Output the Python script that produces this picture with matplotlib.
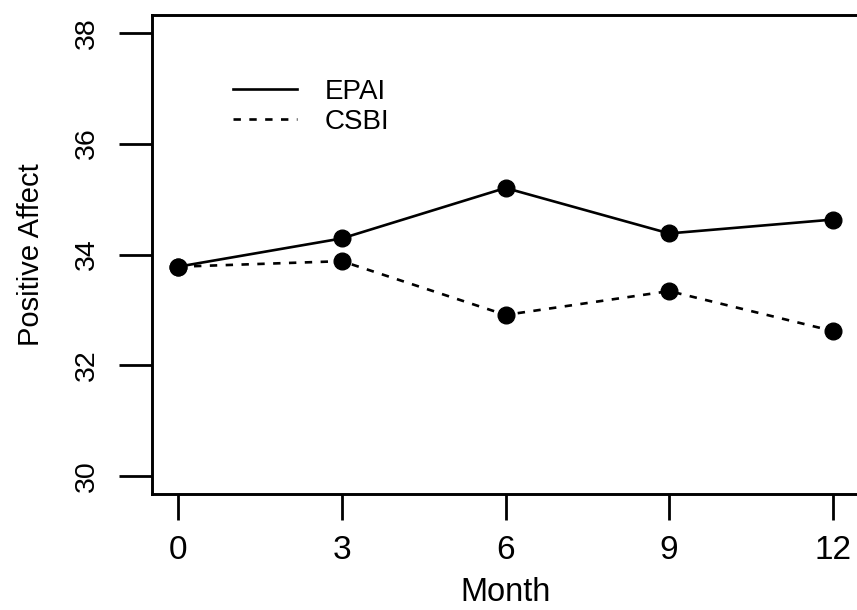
import matplotlib
matplotlib.use("Agg")
import matplotlib.pyplot as plt
from matplotlib.lines import Line2D

plt.rcParams['font.family'] = ['Liberation Sans', 'DejaVu Sans']

# data
months = [0, 3, 6, 9, 12]
epai = [33.78, 34.29, 35.20, 34.38, 34.63]
csbi = [33.78, 33.88, 32.91, 33.34, 32.62]
x_ticks = [0, 3, 6, 9, 12]
y_ticks = [30, 32, 34, 36, 38]

W, H = 857, 610
fig = plt.figure(figsize=(W / 100, H / 100), dpi=100)
ax = fig.add_axes([152 / W, (H - 494) / H, 707 / W, 479 / H])

lw = 1.9
dash = (0, (2.8, 3.2))
ax.plot(months, epai, color='black', lw=lw, ls='-', marker='o', ms=12, label='EPAI')
ax.plot(months, csbi, color='black', lw=lw, ls=dash, marker='o', ms=12, label='CSBI')

ax.set_xlim(-0.48, 12.48)
ax.set_ylim(29.68, 38.32)
ax.set_xticks(x_ticks)
ax.set_yticks(y_ticks)
ax.set_yticklabels([str(t) for t in y_ticks], rotation=90, va='center', fontsize=20.5)
ax.set_xticklabels([str(t) for t in x_ticks], fontsize=24)

ax.tick_params(axis='y', length=24, width=2.0, pad=13.5)
ax.tick_params(axis='x', length=18.5, width=2.0, pad=11)
for s in ax.spines.values():
    s.set_linewidth(2.1)

ax.set_xlabel('Month', fontsize=23.5)
ax.set_ylabel('Positive Affect', fontsize=21)
ax.xaxis.set_label_coords(0.5, -0.174)
ax.yaxis.set_label_coords(-0.152, 0.5)

# legend without markers, no frame
handles = [Line2D([], [], color='black', lw=lw, ls='-'),
           Line2D([], [], color='black', lw=lw, ls=dash)]
ax.legend(handles, ['EPAI', 'CSBI'], loc='upper left',
          bbox_to_anchor=(233 / W, (H - 79) / H), bbox_transform=fig.transFigure,
          frameon=False, fontsize=20, handlelength=2.3, handletextpad=1.0,
          labelspacing=0.15, borderpad=0, borderaxespad=0)

fig.savefig('out.png', dpi=100)
